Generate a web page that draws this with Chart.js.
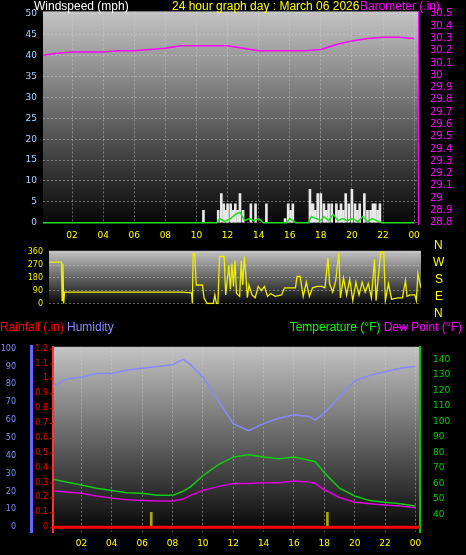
<!DOCTYPE html>
<html><head><meta charset="utf-8">
<script src="https://cdn.jsdelivr.net/npm/chart.js@4/dist/chart.umd.min.js"></script>
<style>
body{margin:0;background:#000;width:466px;height:555px;position:relative;overflow:hidden;font-family:"Liberation Sans",Arial,sans-serif}
canvas{position:absolute;left:0}
.t{position:absolute;font-size:12px;white-space:nowrap;line-height:12px}
</style></head><body>
<canvas id="c1" style="top:0px" width="466" height="245"></canvas>
<canvas id="c2" style="top:240px" width="466" height="75"></canvas>
<canvas id="c3" style="top:335px" width="466" height="220"></canvas>
<div class="t" style="left:34px;top:0;color:#fff">Windspeed (mph)</div>
<div class="t" style="left:172px;top:0;color:#ff0">24 hour graph day : March 06 2026</div>
<div class="t" style="right:26px;top:0;color:#f0f">Barometer (.in)</div>
<div class="t" style="left:434px;top:239px;color:#ff0">N</div>
<div class="t" style="left:433px;top:256px;color:#ff0">W</div>
<div class="t" style="left:435px;top:273px;color:#ff0">S</div>
<div class="t" style="left:435px;top:290px;color:#ff0">E</div>
<div class="t" style="left:434px;top:307px;color:#ff0">N</div>
<div class="t" style="left:0;top:321px;color:#f00">Rainfall (.in)</div>
<div class="t" style="left:67px;top:321px;color:#88f">Humidity</div>
<div class="t" style="right:4px;top:321px"><span style="color:#0f0">Temperature (°F)</span> <span style="color:#f0f">Dew Point (°F)</span></div>
<script>
const hourTicks=[2,4,6,8,10,12,14,16,18,20,22,24];
const hourLabels=['02','04','06','08','10','12','14','16','18','20','22','00'];
// top panel
const baroHours=[0,1,2,3,4,5,6,7,8,9,10,11,12,13,14,15,16,17,18,19,20,21,22,23,24];
const baroVals=[30.16,30.18,30.19,30.19,30.19,30.2,30.2,30.21,30.22,30.24,30.24,30.24,30.24,30.22,30.2,30.2,30.2,30.2,30.21,30.25,30.28,30.3,30.31,30.31,30.3];
const gustHours=[10.45,11.4,11.6,11.75,11.9,12.0,12.2,12.35,12.5,12.65,12.8,13.0,13.5,13.8,14.5,15.7,15.9,16.05,16.2,17.3,17.4,17.5,17.65,17.8,18.0,18.2,18.35,18.5,18.7,19.0,19.15,19.3,19.45,19.6,19.8,20.0,20.2,20.35,20.5,20.8,21.0,21.2,21.35,21.5,21.65,21.8];
const gustVals=[3,3,7,4.5,3,4.5,4.5,3,4.5,3,7,3,4.5,4.5,4.5,1,4.5,3,4.5,8,4.5,4.5,3,7,7,4.5,3,4.5,4.5,4.5,3,4.5,3,7,4.5,8,4.5,3,4.5,7,3,3,4.5,4.5,3,4.5];
const avgHours=[0,11.3,11.5,11.8,12.2,12.5,12.8,13.1,13.4,13.7,14.0,14.3,15.8,16.0,16.4,17.2,17.4,17.7,18.0,18.2,18.5,18.8,19.1,19.4,19.7,20.0,20.4,20.7,21.0,21.3,21.6,21.9,24];
const avgVals=[0,0,1,0.3,1,2,2.5,0.5,1,0.5,1,0,0,1,0,0,1.5,1,0.5,1.5,0.5,2,0.5,1,0.5,1,0.3,1.5,0.3,1,0.5,0,0];
// middle panel
const dirHours=[0,0.8,0.85,0.9,0.95,1.0,8.6,9.2,9.25,9.3,9.4,9.5,9.9,10.0,10.2,10.6,10.7,10.8,10.9,11.0,11.3,11.4,11.6,11.7,11.8,11.9,12.0,12.1,12.3,12.4,12.5,12.6,12.7,12.8,12.9,13.1,13.3,13.5,13.7,13.9,14.1,14.3,14.6,15.0,15.2,15.9,16.0,16.2,16.4,16.6,16.8,17.0,17.3,17.6,17.8,18.0,18.1,18.3,18.5,18.7,18.8,19.0,19.2,19.4,19.6,19.8,20.0,20.2,20.4,20.6,20.8,21.0,21.1,21.4,21.6,21.7,21.9,22.1,22.5,22.8,23.0,23.1,23.3,23.6,23.7,23.8,24];
const dirVals=[290,290,20,280,0,80,80,75,0,350,350,130,130,40,0,0,60,0,0,330,330,60,270,100,280,120,300,70,50,300,130,330,200,40,130,60,40,120,90,120,50,70,50,60,110,110,190,190,50,150,50,110,120,120,110,320,140,80,160,360,40,180,60,170,20,150,60,150,80,140,40,310,20,360,360,20,140,30,40,40,160,50,60,60,20,210,110];
// bottom panel
const hrs=[0,1,2,3,4,5,6,7,8,8.7,9.2,10,11,12,13,14,15,16,17,17.4,18,19,20,21,22,23,24];
const humidity=[78,83,84,86,86,88,89,90,91,94,91,84,71,58,54,58,61,63,62,60,64,73,82,85,87,89,90];
const temperature=[63,61,59,57,55.5,54,53.7,52.4,52.4,55,58,65,72,77,78.5,77,76,77,75,74,67,57,52,49,48,47,45.6];
const dewpoint=[55.5,54.5,53.7,52,50.6,49.5,49,48.7,48.7,50,52.4,55.5,58,60,60,60.5,60.5,61.7,61,60,56,51,48,47,46.2,45.6,44.4];
const rainHours=[0,24.3];
const rainVals=[0,0];
const rainTicks=[0,0.1,0.2,0.3,0.4,0.5,0.6,0.7,0.8,0.9,1,1.1,1.2];
const markHours=[6.6,18.2];
const markVals=[0.1,0.1];

const xy=(h,v)=>h.map((x,i)=>({x,y:v[i]}));
const bgPlugin={id:'bg',beforeDraw(c){const a=c.chartArea,x=c.ctx;const g=x.createLinearGradient(0,a.top,0,a.bottom);g.addColorStop(0,'#c4c4c4');g.addColorStop(1,'#050505');x.save();x.fillStyle=g;x.fillRect(a.left,a.top,a.right-a.left,a.bottom-a.top);x.restore();}};
const rainLabels={id:'rainLabels',afterDraw(c){const s=c.scales.yr,x=c.ctx;x.save();x.fillStyle='#e00';x.strokeStyle='#e00';x.font='8px "DejaVu Sans",sans-serif';x.textAlign='right';x.textBaseline='middle';
 rainTicks.forEach(v=>{const y=s.getPixelForValue(v);x.fillText(String(v),s.right-5,y);x.beginPath();x.moveTo(s.right-3,y+0.5);x.lineTo(s.right,y+0.5);x.stroke();});x.restore();}};
const grid={color:'rgba(210,210,210,0.45)',drawTicks:false,offset:false};
const fix=w=>s=>{s.width=w};
const fixH=h=>s=>{s.height=h};
const tickF={family:'"DejaVu Sans",sans-serif',size:9};
Chart.defaults.animation=false;
Chart.defaults.plugins.legend.display=false;
Chart.defaults.plugins.tooltip.enabled=false;
Chart.defaults.elements.point.radius=0;

new Chart(c1,{type:'line',plugins:[bgPlugin],data:{datasets:[
 {type:'line',data:xy(baroHours,baroVals),yAxisID:'yb',borderColor:'#f0f',borderWidth:1.5},
 {type:'line',data:xy(avgHours,avgVals),yAxisID:'y',borderColor:'#2d2',borderWidth:1.5},
 {type:'bar',data:xy(gustHours,gustVals),yAxisID:'y',backgroundColor:'#e8e8e8',barThickness:2}
]},options:{responsive:false,layout:{padding:{top:10}},scales:{
 x:{type:'linear',offset:false,min:0.13,max:24.25,afterFit:fixH(21),afterBuildTicks:s=>{s.ticks=hourTicks.map(v=>({value:v}))},
   ticks:{color:'#ff0',font:tickF,padding:6,callback:(v)=>hourLabels[hourTicks.indexOf(v)]},grid:grid,border:{display:false,dash:[2,2]}},
 y:{min:-0.3,max:50.6,afterFit:fix(43),afterBuildTicks:s=>{s.ticks=[0,5,10,15,20,25,30,35,40,45,50].map(v=>({value:v}))},ticks:{color:'#aad4ff',font:tickF,padding:6},grid:grid,border:{display:false,dash:[2,2]}},
 yb:{position:'right',min:28.79,max:30.52,afterFit:fix(48),afterBuildTicks:s=>{const t=[];for(let v=28.8;v<30.51;v+=0.1)t.push({value:+v.toFixed(1)});s.ticks=t},
   ticks:{autoSkip:false,color:'#f0f',font:{...tickF,size:10},padding:4,callback:v=>(+v.toFixed(1)).toString()},grid:{display:false},border:{color:'#f0f'}}
}}});

new Chart(c2,{type:'line',plugins:[bgPlugin],data:{datasets:[
 {data:xy(dirHours,dirVals),borderColor:'#ee0',borderWidth:1.3}
]},options:{responsive:false,layout:{padding:{top:5,bottom:3,right:45}},scales:{
 x:{type:'linear',min:0,max:24,display:false},
 y:{min:-5,max:370,afterFit:fix(49),afterBuildTicks:s=>{s.ticks=[0,90,180,270,360].map(v=>({value:v}))},ticks:{autoSkip:false,color:'#ee0',font:{...tickF,size:8},padding:6},grid:grid,border:{display:false,dash:[2,2]}}
}}});

new Chart(c3,{type:'line',plugins:[bgPlugin,rainLabels],data:{datasets:[
 {data:xy(hrs,humidity),yAxisID:'yh',borderColor:'#8888ff',borderWidth:1.5},
 {data:xy(hrs,temperature),yAxisID:'yt',borderColor:'#1c1',borderWidth:1.5},
 {data:xy(hrs,dewpoint),yAxisID:'yt',borderColor:'#d0d',borderWidth:1.5},
 {data:xy(rainHours,rainVals),yAxisID:'yr',borderColor:'#f00',borderWidth:3},
 {type:'bar',data:xy(markHours,markVals),yAxisID:'yr',backgroundColor:'#aa0',barThickness:2}
]},options:{responsive:false,layout:{padding:{top:5}},scales:{
 x:{type:'linear',offset:false,min:0.13,max:24.3,afterFit:fixH(23),afterBuildTicks:s=>{s.ticks=hourTicks.map(v=>({value:v}))},
   ticks:{color:'#ff0',font:tickF,padding:6,callback:(v)=>hourLabels[hourTicks.indexOf(v)]},grid:grid,border:{display:false,dash:[2,2]}},
 yr:{position:'left',min:-0.0324,max:1.212,afterFit:fix(22),ticks:{display:false},grid:{display:false},border:{color:'#f33',width:2}},
 yh:{position:'left',min:-2.7,max:101,afterFit:fix(31),afterBuildTicks:s=>{s.ticks=[0,10,20,30,40,50,60,70,80,90,100].map(v=>({value:v}))},ticks:{autoSkip:false,color:'#8888ff',font:{...tickF,size:8},padding:7},grid:{display:false},border:{color:'#66f',width:3}},
 yt:{position:'right',min:28.8,max:148,afterFit:fix(46),afterBuildTicks:s=>{const t=[];for(let v=40;v<=140;v+=10)t.push({value:v});s.ticks=t},ticks:{autoSkip:false,color:'#0c0',font:tickF,padding:5},grid:{display:false},border:{color:'#0c0',width:2}}
}}});
</script></body></html>
